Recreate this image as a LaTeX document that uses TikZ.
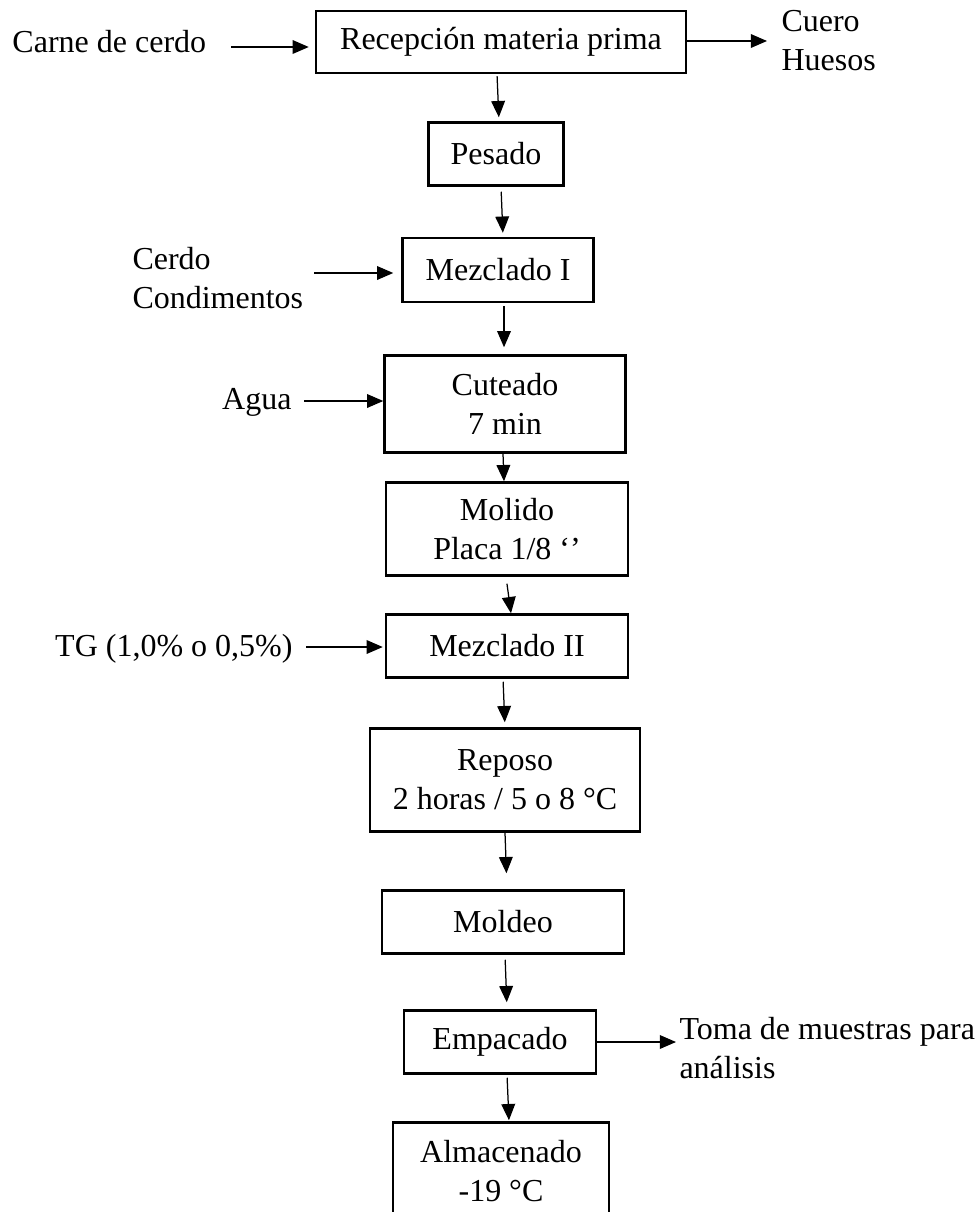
\documentclass[tikz,border=0pt]{standalone}
\usepackage{fontspec}
\setmainfont{Liberation Serif}
\usetikzlibrary{arrows.meta, positioning, calc}
\newlength{\px}
\setlength{\px}{0.4pt}
\tikzset{
  etapa/.style={draw, line width=1pt, align=center, inner sep=2pt, font=\fontsize{12.8}{15.6}\selectfont},
  entrada/.style={align=left, inner sep=0pt, font=\fontsize{12.8}{15.6}\selectfont},
  flecha/.style={-{Triangle[length=6.5pt, width=5.5pt]}, line width=0.5pt},
}

\begin{document}
\begin{tikzpicture}[x=0.4pt, y=-0.4pt]
  \path[use as bounding box] (0,0) rectangle (979,1212);
  \fill[white] (0,0) rectangle (979,1212);

  % etapas del proceso
  \node[etapa, minimum width=370*\px, minimum height=62*\px] (rec) at (501,42) {Recepción materia prima};
  \node[etapa, minimum width=135*\px, minimum height=63*\px] (pes) at (496,154) {Pesado};
  \node[etapa, minimum width=191*\px, minimum height=64*\px] (mez1) at (498,270) {Mezclado I};
  \node[etapa, minimum width=241*\px, minimum height=97*\px] (cut) at (505,404) {Cuteado\\7 min};
  \node[etapa, minimum width=242*\px, minimum height=93*\px] (mol) at (507,529) {Molido\\Placa 1/8 ‘’};
  \node[etapa, minimum width=242*\px, minimum height=63*\px] (mez2) at (507,646) {Mezclado II};
  \node[etapa, minimum width=270*\px, minimum height=103*\px] (rep) at (505,780) {Reposo\\2 horas / 5 o 8 °C};
  \node[etapa, minimum width=242*\px, minimum height=63*\px] (mold) at (503,922) {Moldeo};
  \node[etapa, minimum width=192*\px, minimum height=63*\px] (emp) at (500,1042) {Empacado};
  \node[etapa, minimum width=216*\px, minimum height=97*\px] (alm) at (501,1171) {Almacenado\\-19 °C};

  % entradas y salidas
  \node[entrada, anchor=base west] (carne) at (12,53) {Carne de cerdo};
  \node[entrada, anchor=north west] (cuero) at (781,10) {Cuero\\Huesos};
  \node[entrada, anchor=north west] (cerdo) at (132,247) {Cerdo\\Condimentos};
  \node[entrada, anchor=base east] (agua) at (292,409) {Agua};
  \node[entrada, anchor=base east] (tg) at (293,656) {TG (1,0\% o 0,5\%)};
  \node[entrada, anchor=north west] (toma) at (679,1017) {Toma de muestras para\\análisis};

  \coordinate (pCarne) at (231,47);
  \coordinate (pCerdo) at (314,273);
  \coordinate (pAgua) at (304,401);
  \coordinate (pTG) at (306,647);
  \coordinate (pCuero) at (767,41);
  \coordinate (pToma) at (676,1042);

  % flechas laterales
  \draw[flecha, shorten >=6*\px] (pCarne) -- (pCarne -| rec.west);
  \draw[flecha] (rec.east |- pCuero) -- (pCuero);
  \draw[flecha, shorten >=8*\px] (pCerdo) -- (pCerdo -| mez1.west);
  \draw[flecha] (pAgua) -- (pAgua -| cut.west);
  \draw[flecha, shorten >=2*\px] (pTG) -- (pTG -| mez2.west);
  \draw[flecha] (emp.east) -- (pToma);

  % flujo principal
  \draw[flecha, shorten <=2*\px, shorten >=4*\px] ([xshift=-4*\px]rec.south) -- ([xshift=3*\px]pes.north);
  \draw[flecha, shorten <=5*\px, shorten >=4*\px] ([xshift=5*\px]pes.south) -- ([xshift=5*\px]mez1.north);
  \draw[flecha, shorten <=3*\px, shorten >=7*\px] ([xshift=6*\px]mez1.south) -- ([xshift=-1*\px]cut.north);
  \draw[flecha] ([xshift=-2*\px]cut.south) -- ([xshift=-3*\px]mol.north);
  \draw[flecha, shorten <=7*\px] ([xshift=-1*\px]mol.south) -- ([xshift=4*\px]mez2.north);
  \draw[flecha, shorten <=3*\px, shorten >=5*\px] ([xshift=-4*\px]mez2.south) -- (rep.north);
  \draw[flecha, shorten >=16*\px] (rep.south) -- ([xshift=4*\px]mold.north);
  \draw[flecha, shorten <=5*\px, shorten >=7*\px] ([xshift=2*\px]mold.south) -- ([xshift=7*\px]emp.north);
  \draw[flecha, shorten <=3*\px, shorten >=1*\px] ([xshift=7*\px]emp.south) -- ([xshift=8*\px]alm.north);
\end{tikzpicture}
\end{document}
